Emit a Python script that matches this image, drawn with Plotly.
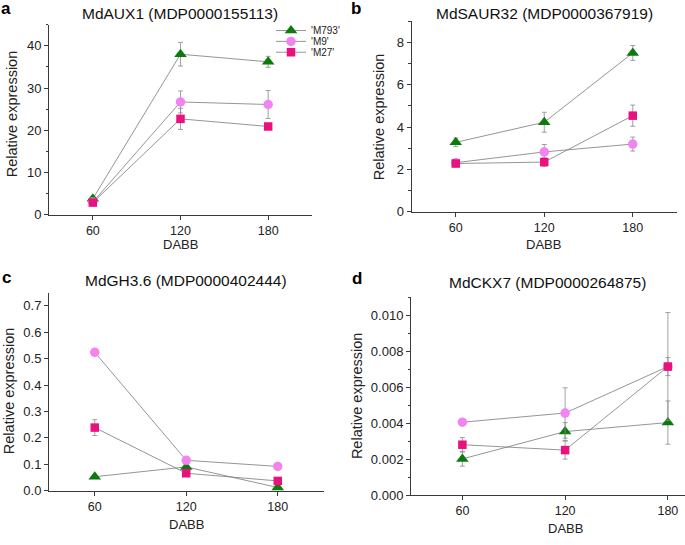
import plotly.graph_objects as go

# ---------------- data ----------------
dabb = [60, 120, 180]
series_names = ["'M793'", "'M9'", "'M27'"]

# Panel a: MdAUX1
aux1_m793 = [3.8, 38.0, 36.2]
aux1_m793_err = [0.4, 2.8, 1.3]
aux1_m9 = [3.0, 26.7, 26.1]
aux1_m9_err = [0.3, 2.6, 3.3]
aux1_m27 = [2.9, 22.7, 20.9]
aux1_m27_err = [0.4, 2.5, 0.5]

# Panel b: MdSAUR32
saur_m793 = [3.28, 4.23, 7.5]
saur_m793_err = [0.2, 0.47, 0.35]
saur_m9 = [2.32, 2.83, 3.2]
saur_m9_err = [0.12, 0.35, 0.33]
saur_m27 = [2.28, 2.35, 4.54]
saur_m27_err = [0.12, 0.2, 0.5]

# Panel c: MdGH3.6
gh_m793 = [0.053, 0.09, 0.012]
gh_m793_err = [0.005, 0.01, 0.005]
gh_m9 = [0.524, 0.115, 0.092]
gh_m9_err = [0.005, 0.005, 0.005]
gh_m27 = [0.239, 0.066, 0.037]
gh_m27_err = [0.03, 0.006, 0.005]

# Panel d: MdCKX7
ckx_m793 = [0.00201, 0.00353, 0.00403]
ckx_m793_err = [0.0004, 0.0005, 0.0012]
ckx_m9 = [0.00405, 0.00456, 0.00714]
ckx_m9_err = [0.0001, 0.0014, 0.003]
ckx_m27 = [0.0028, 0.0025, 0.00714]
ckx_m27_err = [0.0004, 0.0005, 0.0005]

titles = ["MdAUX1 (MDP0000155113)", "MdSAUR32 (MDP0000367919)",
          "MdGH3.6 (MDP0000402444)", "MdCKX7 (MDP0000264875)"]
panel_labels = ["a", "b", "c", "d"]

# ---------------- style ----------------
FONT = "Arial, Liberation Sans, sans-serif"
W, H = 685, 545
colors = ["#0d7a0d", "#f283f0", "#e8117f"]
symbols = ["triangle-up", "circle", "square"]
sizes = [11, 9.5, 8.5]
LINE_C = "#7a7a7a"
ERR_C = "#8a8a8a"
AX_C = "#3a3a3a"

panels = [
    dict(data=[(aux1_m793, aux1_m793_err), (aux1_m9, aux1_m9_err), (aux1_m27, aux1_m27_err)],
         px_x=(49, 312), px_y=(218, 25), yrange=[0, 45], dtick=10, minor=5, fmt="",
         xrange=[30, 210]),
    dict(data=[(saur_m793, saur_m793_err), (saur_m9, saur_m9_err), (saur_m27, saur_m27_err)],
         px_x=(411.5, 677), px_y=(215, 21.5), yrange=[0, 9], dtick=2, minor=1, fmt="",
         xrange=[30, 210]),
    dict(data=[(gh_m793, gh_m793_err), (gh_m9, gh_m9_err), (gh_m27, gh_m27_err)],
         px_x=(49, 323.5), px_y=(498, 297), yrange=[0, 0.75], dtick=0.1, minor=None, fmt=".1f",
         xrange=[30, 210]),
    dict(data=[(ckx_m793, ckx_m793_err), (ckx_m9, ckx_m9_err), (ckx_m27, ckx_m27_err)],
         px_x=(411, 685), px_y=(502.5, 301.5), yrange=[0, 0.011], dtick=0.002, minor=0.001, fmt=".3f",
         xrange=[30, 190]),
]

title_pos = [(180, 14), (544, 14), (186, 285), (547, 287)]
label_pos = [(6, 9), (356, 9), (6, 282), (357, 283)]
ytitle_pos = [(12, 116), (379, 118), (9, 397), (357, 402)]
xtitle_pos = [(180, 248), (543, 248), (187, 532), (565, 536)]
legend_rows = [31, 42, 53]

fig = go.Figure()
layout = dict(width=W, height=H, margin=dict(l=0, r=0, t=0, b=0),
              paper_bgcolor="white", plot_bgcolor="white",
              font=dict(family=FONT, size=13, color="#222"),
              showlegend=True)
annotations = []
legend_keys = ["legend", "legend2", "legend3"]

for i, p in enumerate(panels):
    n = "" if i == 0 else str(i + 1)
    xa, ya = "x" + n, "y" + n
    for j, (vals, errs) in enumerate(p["data"]):
        fig.add_trace(go.Scatter(
            x=dabb, y=vals, xaxis=xa, yaxis=ya,
            mode="lines+markers", name=series_names[j],
            showlegend=(i == 0), legend=legend_keys[j],
            line=dict(color=LINE_C, width=0.8),
            marker=dict(symbol=symbols[j], size=sizes[j], color=colors[j],
                        line=dict(width=0)),
            error_y=dict(type="data", array=errs, visible=True,
                         color=ERR_C, thickness=0.8, width=2.5),
            cliponaxis=False,
        ))
    x0, x1 = p["px_x"]
    yb, yt = p["px_y"]
    layout["xaxis" + n] = dict(
        domain=[x0 / W, x1 / W], anchor=ya, range=p["xrange"],
        tickvals=dabb, ticks="outside", ticklen=4, tickwidth=1, tickcolor=AX_C,
        showline=True, linecolor=AX_C, linewidth=1,
        showgrid=False, zeroline=False, tickfont=dict(size=12.5, color="#222"),
    )
    yax = dict(
        domain=[1 - yb / H, 1 - yt / H], anchor=xa, range=p["yrange"],
        dtick=p["dtick"], tick0=0, ticks="outside", ticklen=4, tickwidth=1,
        tickcolor=AX_C, showline=True, linecolor=AX_C, linewidth=1,
        showgrid=False, zeroline=False, tickfont=dict(size=13, color="#222"),
    )
    if p["fmt"]:
        yax["tickformat"] = p["fmt"]
    if p["minor"]:
        yax["minor"] = dict(dtick=p["minor"], tick0=0, ticks="outside",
                            ticklen=2.5, tickcolor=AX_C, showgrid=False)
    layout["yaxis" + n] = yax

    tx, ty = title_pos[i]
    annotations.append(dict(text=titles[i], x=tx / W, y=1 - ty / H, xref="paper", yref="paper",
                            showarrow=False, xanchor="center", yanchor="middle",
                            font=dict(size=15.5, color="#111")))
    lx, ly = label_pos[i]
    annotations.append(dict(text="<b>%s</b>" % panel_labels[i], x=lx / W, y=1 - ly / H,
                            xref="paper", yref="paper", showarrow=False,
                            xanchor="center", yanchor="middle",
                            font=dict(size=17, color="#000")))
    yx, yy = ytitle_pos[i]
    annotations.append(dict(text="Relative expression", x=yx / W, y=1 - yy / H,
                            xref="paper", yref="paper", showarrow=False, textangle=-90,
                            xanchor="center", yanchor="middle",
                            font=dict(size=14.5, color="#222")))
    xx, xy = xtitle_pos[i]
    annotations.append(dict(text="DABB", x=xx / W, y=1 - xy / H,
                            xref="paper", yref="paper", showarrow=False,
                            xanchor="center", yanchor="middle",
                            font=dict(size=13, color="#222")))

layout["annotations"] = annotations
for k, row in zip(legend_keys, legend_rows):
    layout[k] = dict(x=271 / W, y=1 - row / H, xanchor="left", yanchor="middle",
                     bgcolor="rgba(0,0,0,0)", borderwidth=0,
                     font=dict(size=10, color="#222"), itemwidth=30)
fig.update_layout(**layout)

page_fix = (
    "document.documentElement.style.margin='0';"
    "document.documentElement.style.padding='0';"
    "document.documentElement.style.overflow='hidden';"
    "document.body.style.margin='0';"
    "document.body.style.padding='0';"
    "document.body.style.overflow='hidden';"
)
fig.write_html("out.html", config={"displayModeBar": False}, post_script=page_fix)
